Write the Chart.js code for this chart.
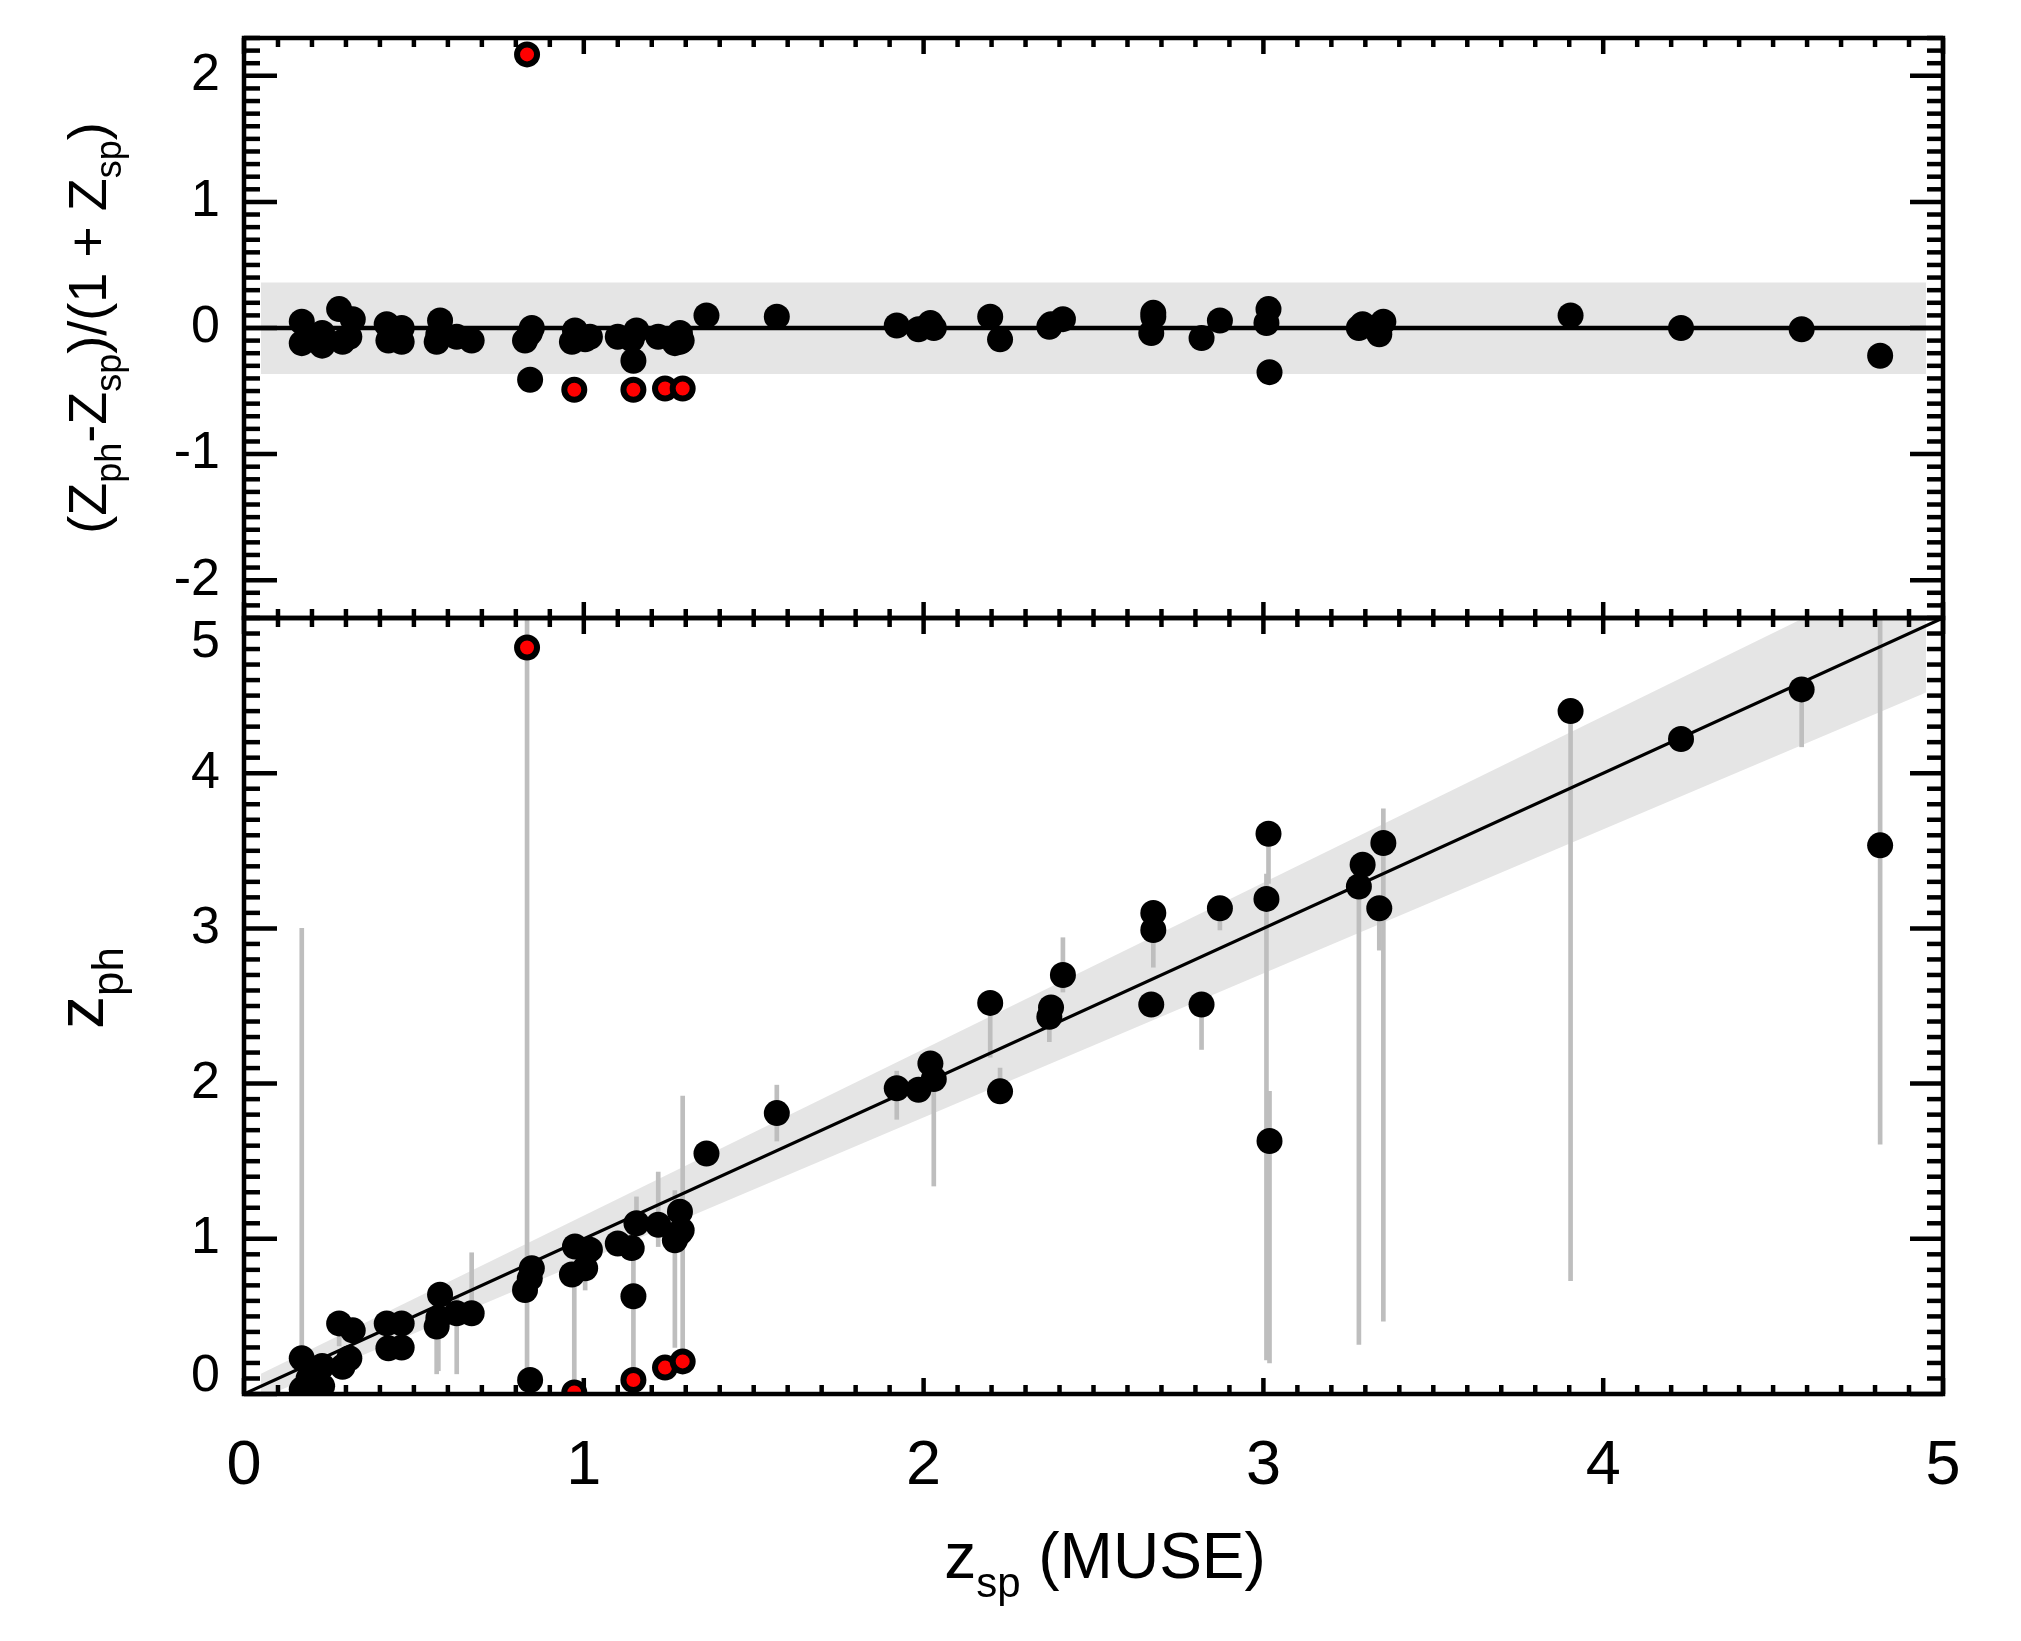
<!DOCTYPE html>
<html>
<head>
<meta charset="utf-8">
<title>Photometric vs spectroscopic redshift</title>
<script src="https://cdn.jsdelivr.net/npm/chart.js@4.4.1/dist/chart.umd.min.js"></script>
<style>
  html, body { margin: 0; padding: 0; background: #fff; }
</style>
</head>
<body>
<canvas id="photoz" width="2021" height="1641"></canvas>
<script>
// spectroscopic redshift (MUSE), one entry per galaxy
const zSpec = [
  0.17, 0.17, 0.19, 0.23, 0.23, 0.28, 0.32, 0.31, 0.29, 0.42,
  0.425, 0.464, 0.464, 0.577, 0.567, 0.572, 0.626, 0.670, 0.833, 0.847,
  0.841, 0.827, 0.842, 0.972, 0.974, 1.018, 0.965, 1.004, 1.100, 1.155,
  1.141, 1.146, 1.146, 1.219, 1.239, 1.283, 1.288, 1.268, 1.283, 1.291,
  1.361, 1.568, 1.921, 1.985, 2.020, 2.030, 2.196, 2.225, 2.370, 2.375,
  2.410, 2.676, 2.676, 2.670, 2.818, 2.872, 3.015, 3.009, 3.018, 3.281,
  3.292, 3.341, 3.353, 3.904, 4.229, 4.584, 4.815
];
// photometric redshift
const zPhot = [
  0.23, 0.03, 0.10, 0.18, 0.05, 0.455, 0.41, 0.23, 0.175, 0.455,
  0.295, 0.455, 0.30, 0.64, 0.435, 0.49, 0.52, 0.52, 4.81, 0.81,
  0.745, 0.67, 0.09, 0.01, 0.95, 0.93, 0.77, 0.81, 0.97, 1.10,
  0.94, 0.63, 0.09, 1.09, 0.17, 1.175, 1.055, 0.99, 1.04, 0.21,
  1.55, 1.81, 1.97, 1.96, 2.13, 2.03, 2.52, 1.95, 2.43, 2.49,
  2.70, 3.10, 2.99, 2.51, 2.51, 3.13, 3.61, 3.19, 1.63, 3.27,
  3.41, 3.13, 3.55, 4.40, 4.22, 4.54, 3.535
];
// (z_ph - z_sp)/(1 + z_sp)
const dzNorm = [
  0.05, -0.12, -0.08, -0.04, -0.14, 0.15, 0.07, -0.07, -0.11, 0.03,
  -0.10, 0.00, -0.11, 0.06, -0.11, -0.05, -0.07, -0.10, 2.17, 0.00,
  -0.04, -0.10, -0.41, -0.49, -0.02, -0.07, -0.11, -0.09, -0.07, -0.02,
  -0.09, -0.26, -0.49, -0.07, -0.48, -0.04, -0.10, -0.12, -0.11, -0.48,
  0.10, 0.09, 0.02, -0.01, 0.04, 0.00, 0.09, -0.09, 0.01, 0.03,
  0.07, 0.12, 0.09, -0.04, -0.08, 0.06, 0.15, 0.04, -0.35, 0.00,
  0.03, -0.05, 0.05, 0.10, 0.00, -0.01, -0.22
];
// catastrophic outliers (drawn red)
const outlier = [
  0, 0, 0, 0, 0, 0, 0, 0, 0, 0,
  0, 0, 0, 0, 0, 0, 0, 0, 1, 0,
  0, 0, 0, 1, 0, 0, 0, 0, 0, 0,
  0, 0, 1, 0, 1, 0, 0, 0, 0, 1,
  0, 0, 0, 0, 0, 0, 0, 0, 0, 0,
  0, 0, 0, 0, 0, 0, 0, 0, 0, 0,
  0, 0, 0, 0, 0, 0, 0
];
// z_ph uncertainty range (grey bars), null where none is drawn
const errLow = [
  0.12, null, null, null, null, 0.31, null, null, null, null,
  null, null, null, null, 0.13, 0.15, 0.13, 0.52, 0.10, null,
  null, null, null, 0.00, null, null, null, 0.67, null, 0.94,
  null, 0.09, null, 0.95, null, null, null, 0.30, null, 0.21,
  null, 1.63, 1.77, null, null, 1.34, 2.17, 1.95, 2.27, null,
  2.59, null, 2.75, null, 2.22, 2.99, 3.29, 0.22, 0.20, 0.32,
  null, 2.86, 0.47, 0.73, null, 4.17, 1.61
];
const errHigh = [
  3.00, null, null, null, null, 0.455, null, null, null, null,
  null, null, null, null, 0.435, 0.49, 0.63, 0.91, 5.30, null,
  null, null, null, 0.69, null, null, null, 0.81, null, 1.27,
  null, 0.94, null, 1.43, null, null, null, 1.31, null, 1.92,
  null, 1.99, 2.08, null, null, 2.03, 2.52, 2.10, 2.43, null,
  2.94, null, 2.99, null, 2.51, 3.20, 3.61, 3.35, 1.95, 3.30,
  null, 3.13, 3.77, 4.40, null, 4.54, 5.30
];

// shaded scatter bands and reference lines
const upBandX = [0.05, 4.95];
const upBandHi = [0.36, 0.36];
const upBandLo = [-0.365, -0.365];
const lowBandHiX = [0.05, 4.59, 4.95];
const lowBandHiY = [0.13, 5.0, 5.0];
const lowBandLoX = [0.05, 0.08, 4.95];
const lowBandLoY = [0.0, 0.0, 4.52];
const oneToOneX = [0, 5];
const oneToOneY = [0, 5];
const zeroLineX = [0, 5];
const zeroLineY = [0, 0];

// axes
const xRange = [0, 5];
const yUpRange = [-2.3, 2.3];
const yLowRange = [0, 5];
const xTicks = [0, 1, 2, 3, 4, 5];
const yUpTicks = [-2, -1, 0, 1, 2];
const yLowTicks = [0, 1, 2, 3, 4, 5];

const FONT = '"Liberation Sans", Arial, sans-serif';
const GREY_BAR = '#bebebe';
const GREY_BAND = '#e5e5e5';

Chart.defaults.font.family = FONT;
Chart.defaults.color = '#000';

const pairs = (xs, ys) => xs.map((x, i) => ({ x: x, y: ys[i] }));
const idx = zSpec.map((z, i) => i);
const good = idx.filter(i => !outlier[i]);
const bad = idx.filter(i => outlier[i]);
const hasErr = idx.filter(i => errLow[i] !== null);

const noPad = s => { s.paddingTop = 0; s.paddingBottom = 0; s.paddingLeft = 0; s.paddingRight = 0; };

// nudgeEnds: keep the end labels inside their own panel, like the original
function yAxis(range, ticks, weight, nudgeEnds) {
  return {
    type: 'linear', position: 'left', stack: 'panels', stackWeight: weight,
    min: range[0], max: range[1],
    grid: { display: false, drawTicks: false },
    border: { display: false },
    ticks: {
      font: c => ({ size: 52, lineHeight: (nudgeEnds && c.tick && c.tick.value === range[0]) ? 0.65 : 0.95 }),
      padding: 24, autoSkip: false,
      callback: v => {
        if (nudgeEnds && v === range[1]) return ['', String(v)];
        if (nudgeEnds && v === range[0]) return [String(v), ''];
        return String(v);
      }
    },
    afterBuildTicks: s => { s.ticks = ticks.map(v => ({ value: v })); },
    afterFit: s => { s.width = 244; noPad(s); }
  };
}

// box + inward ticks on all four sides of each panel
const frameTicks = {
  id: 'frameTicks',
  afterDatasetsDraw(chart) {
    const { ctx, chartArea } = chart;
    const xs = chart.scales.x;
    const seg = (x1, y1, x2, y2) => { ctx.beginPath(); ctx.moveTo(x1, y1); ctx.lineTo(x2, y2); ctx.stroke(); };
    ctx.save();
    ctx.strokeStyle = '#000';
    ctx.lineWidth = 4.5;
    ctx.lineCap = 'butt';
    [chart.scales.yUp, chart.scales.yLow].forEach(ys => {
      const L = chartArea.left, R = chartArea.right, T = ys.top, B = ys.bottom;
      for (let k = Math.round(xs.min * 10); k <= Math.round(xs.max * 10); k++) {
        const px = xs.getPixelForValue(k / 10);
        const len = k % 10 === 0 ? 16 : 9;
        seg(px, T, px, T + len);
        seg(px, B, px, B - len);
      }
      for (let k = Math.round(ys.min * 10); k <= Math.round(ys.max * 10); k++) {
        const py = ys.getPixelForValue(k / 10);
        const len = k % 10 === 0 ? 33 : 16;
        seg(L, py, L + len, py);
        seg(R, py, R - len, py);
      }
      ctx.strokeRect(L, T, R - L, B - T);
    });
    ctx.restore();
  }
};

// axis titles with subscripts
function drawRich(ctx, parts, cx, baseY, size, subSize, drop) {
  let w = 0;
  parts.forEach(p => { ctx.font = (p[1] ? subSize : size) + 'px ' + FONT; w += ctx.measureText(p[0]).width; });
  let x = cx - w / 2;
  ctx.textAlign = 'left';
  ctx.textBaseline = 'alphabetic';
  parts.forEach(p => {
    ctx.font = (p[1] ? subSize : size) + 'px ' + FONT;
    ctx.fillText(p[0], x, baseY + (p[1] ? drop : 0));
    x += ctx.measureText(p[0]).width;
  });
}

const titles = {
  id: 'titles',
  afterDraw(chart) {
    const ctx = chart.ctx;
    ctx.save();
    ctx.fillStyle = '#000';
    drawRich(ctx, [['z', 0], ['sp', 1], [' (MUSE)', 0]], 1105, 1578, 64, 42, 19);

    ctx.save();
    ctx.translate(103, 988);
    ctx.rotate(-Math.PI / 2);
    drawRich(ctx, [['z', 0], ['ph', 1]], 0, 0, 66, 44, 20);
    ctx.restore();

    ctx.save();
    ctx.translate(106, 328);
    ctx.rotate(-Math.PI / 2);
    drawRich(ctx, [['(Z', 0], ['ph', 1], ['-Z', 0], ['sp', 1], [')/(1 + Z', 0], ['sp', 1], [')', 0]], 0, 0, 54, 36, 15);
    ctx.restore();
    ctx.restore();
  }
};

new Chart(document.getElementById('photoz'), {
  type: 'scatter',
  data: {
    datasets: [
      { type: 'line', yAxisID: 'yUp', data: pairs(upBandX, upBandHi), fill: '+1', backgroundColor: GREY_BAND, borderWidth: 0, pointRadius: 0, order: 10 },
      { type: 'line', yAxisID: 'yUp', data: pairs(upBandX, upBandLo), fill: false, borderWidth: 0, pointRadius: 0, order: 10 },
      { type: 'line', yAxisID: 'yLow', data: pairs(lowBandHiX, lowBandHiY), fill: '+1', backgroundColor: GREY_BAND, borderWidth: 0, pointRadius: 0, order: 10 },
      { type: 'line', yAxisID: 'yLow', data: pairs(lowBandLoX, lowBandLoY), fill: false, borderWidth: 0, pointRadius: 0, order: 10 },
      {
        type: 'bar', yAxisID: 'yLow',
        data: hasErr.map(i => ({ x: zSpec[i], y: [errLow[i], errHigh[i]] })),
        backgroundColor: GREY_BAR, borderWidth: 0, barThickness: 4, grouped: false, clip: 0, order: 6
      },
      { type: 'line', yAxisID: 'yUp', data: pairs(zeroLineX, zeroLineY), borderColor: '#000', borderWidth: 4.5, pointRadius: 0, fill: false, clip: 0, order: 5 },
      { type: 'line', yAxisID: 'yLow', data: pairs(oneToOneX, oneToOneY), borderColor: '#000', borderWidth: 3.2, pointRadius: 0, fill: false, clip: 0, order: 5 },
      {
        type: 'scatter', yAxisID: 'yUp', data: good.map(i => ({ x: zSpec[i], y: dzNorm[i] })),
        pointRadius: 13, pointBackgroundColor: '#000', pointBorderWidth: 0, clip: 0, order: 2
      },
      {
        type: 'scatter', yAxisID: 'yLow', data: good.map(i => ({ x: zSpec[i], y: zPhot[i] })),
        pointRadius: 13, pointBackgroundColor: '#000', pointBorderWidth: 0, clip: 0, order: 2
      },
      {
        type: 'scatter', yAxisID: 'yUp', data: bad.map(i => ({ x: zSpec[i], y: dzNorm[i] })),
        pointRadius: 10, pointBackgroundColor: '#ff0000', pointBorderColor: '#000', pointBorderWidth: 6, clip: 0, order: 1
      },
      {
        type: 'scatter', yAxisID: 'yLow', data: bad.map(i => ({ x: zSpec[i], y: zPhot[i] })),
        pointRadius: 10, pointBackgroundColor: '#ff0000', pointBorderColor: '#000', pointBorderWidth: 6, clip: 0, order: 1
      }
    ]
  },
  options: {
    responsive: false,
    animation: false,
    devicePixelRatio: 1,
    events: [],
    layout: { padding: { left: 0, top: 38, right: 78, bottom: 0 } },
    plugins: {
      legend: { display: false },
      tooltip: { enabled: false }
    },
    scales: {
      x: {
        type: 'linear', position: 'bottom', min: xRange[0], max: xRange[1], offset: false,
        grid: { display: false, drawTicks: false },
        border: { display: false },
        ticks: { font: { size: 63 }, padding: 35, maxRotation: 0, autoSkip: false, callback: v => String(v) },
        afterBuildTicks: s => { s.ticks = xTicks.map(v => ({ value: v })); },
        afterFit: s => { s.height = 247; noPad(s); }
      },
      yLow: yAxis(yLowRange, yLowTicks, 776, true),
      yUp: yAxis(yUpRange, yUpTicks, 580, false)
    }
  },
  plugins: [frameTicks, titles]
});
</script>
</body>
</html>
